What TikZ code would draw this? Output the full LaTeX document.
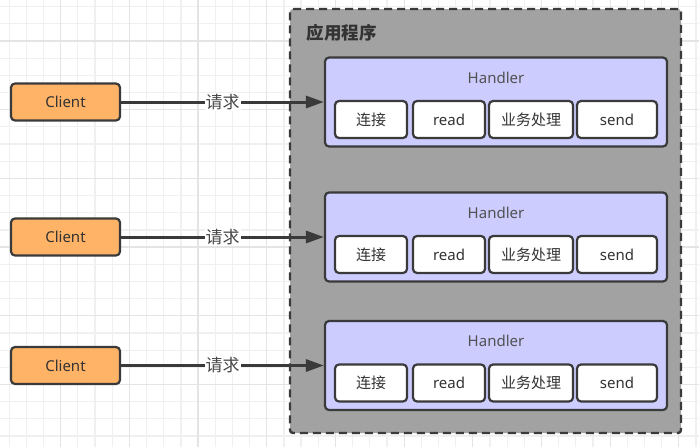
\documentclass[tikz,border=0pt]{standalone}
\usepackage{fontspec}
\setmainfont{Noto Sans}
\newfontfamily\cjk{Noto Sans CJK SC}
\usepackage{xcolor}
\usetikzlibrary{
    arrows.meta,
    positioning
}
\definecolor{dark}{HTML}{3A3A3A}
\definecolor{textdark}{HTML}{333333}
\definecolor{client}{HTML}{FFB366}
\definecolor{handler}{HTML}{CCCCFF}
\definecolor{appgray}{HTML}{A2A2A2}
\definecolor{gridminor}{HTML}{F0F0F0}
\definecolor{gridmajor}{HTML}{E4E4E4}
\tikzset{
    % Client box style
    clientbox/.style={
        rectangle,
        rounded corners=4pt,
        minimum width=109pt,
        minimum height=37pt,
        align=center,
        font=\fontsize{15}{18}\selectfont,
        text=textdark,
        draw=dark,
        fill=#1,
        line width=2.2pt
    },
    % Application container style
    container/.style={
        rectangle,
        rounded corners=3pt,
        draw=dark,
        fill=#1,
        line width=2.4pt,
        dash pattern=on 8pt off 5pt
    },
    % Handler box style
    handlerbox/.style={
        rectangle,
        rounded corners=4pt,
        minimum width=342pt,
        minimum height=89pt,
        draw=dark,
        fill=#1,
        line width=2.2pt
    },
    % Step box style inside a handler
    stepbox/.style={
        rectangle,
        rounded corners=4pt,
        minimum height=37pt,
        align=center,
        font=\fontsize{15}{18}\selectfont,
        text=textdark,
        draw=dark,
        fill=white,
        line width=2.2pt
    },
    % Arrow style
    flow/.style={
        -{Triangle[length=18pt, width=12pt]},
        line width=3pt,
        color=#1
    },
    % Label styles
    label text/.style={
        font=\cjk\fontsize{17}{20}\selectfont,
        text=textdark!90,
        fill=white,
        inner sep=1pt
    },
    section title/.style={
        font=\cjk\fontsize{17.5}{20}\selectfont\bfseries,
        text=textdark
    },
    handler title/.style={
        font=\fontsize{15}{18}\selectfont,
        text=textdark!85
    }
}

\begin{document}
\begin{tikzpicture}[x=1pt, y=-1pt]

        \useasboundingbox (0,0) rectangle (699,447);

        % Background grid
        \foreach \i in {0,...,40} {
            \draw[gridminor, line width=1.2pt] ({9.2+\i*17.17},0) -- ++(0,447);
        }
        \foreach \i in {0,...,25} {
            \draw[gridminor, line width=1.2pt] (0,{6.7+\i*17.17}) -- ++(699,0);
        }
        \foreach \i in {0,...,9} {
            \draw[gridmajor, line width=1.2pt] ({9.2+(3+4*\i)*17.17},0) -- ++(0,447);
        }
        \foreach \i in {0,...,6} {
            \draw[gridmajor, line width=1.2pt] (0,{6.7+(2+4*\i)*17.17}) -- ++(699,0);
        }

        % Application container
        \node[container=appgray, minimum width=391pt, minimum height=424pt] (app) at (485.5, 221) {};
        \node[section title] (apptitle) at (341.5, 32.5) {应用程序};

        % Clients, handlers and requests
        \foreach \i/\y in {1/102, 2/237, 3/365.5} {
            \node[clientbox=client] (client\i) at (65.5, \y) {Client};
            \node[handlerbox=handler] (handler\i) at (496, \y) {};
            \node[handler title] (htitle\i) at (496, \y-24.5) {Handler};
            \node[stepbox, minimum width=72pt] (connect\i) at (371, \y+17.5) {\cjk 连接};
            \node[stepbox, minimum width=72pt] (read\i) at (449, \y+17.5) {read};
            \node[stepbox, minimum width=84pt] (process\i) at (531, \y+17.5) {\cjk 业务处理};
            \node[stepbox, minimum width=80pt] (send\i) at (617, \y+17.5) {send};
            \draw[flow=dark] (client\i) -- node[label text] (req\i) {请求} (handler\i);
        }

    \end{tikzpicture}
\end{document}
